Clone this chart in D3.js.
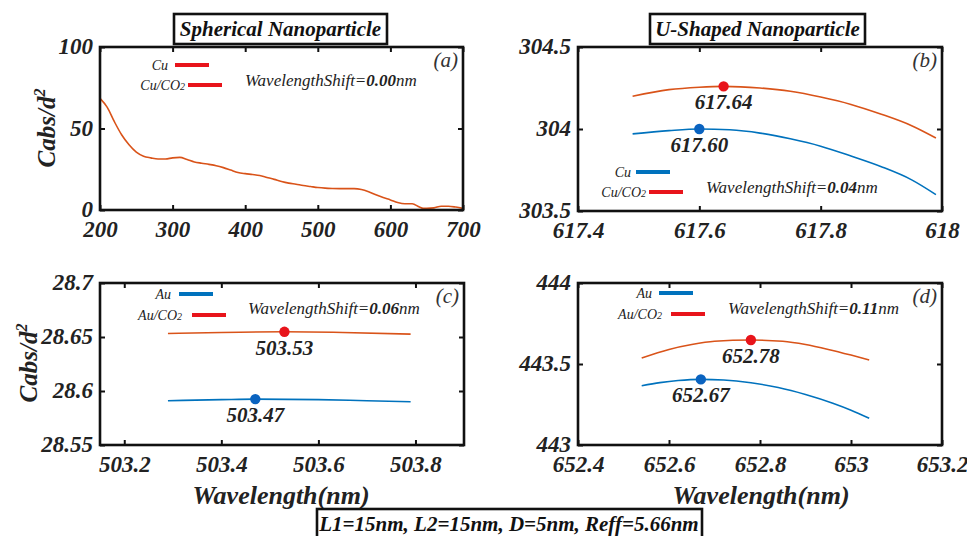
<!DOCTYPE html>
<html>
<head>
<meta charset="utf-8">
<script src="https://cdn.jsdelivr.net/npm/d3@7"></script>
<style>
  html, body { margin: 0; padding: 0; background: #fff; }
  svg { display: block; }
  svg text { font-family: "Liberation Serif", "Tinos", "Times New Roman", "DejaVu Serif", serif; }
</style>
</head>
<body>
<svg id="chart" width="967" height="536"></svg>
<script>
// ---- Panel (a): spherical Cu, absorption spectrum ----
const sphWl  = [200, 210, 220, 230, 240, 250, 260, 270, 280, 290, 300, 310, 320, 330, 340, 350, 360, 370, 380, 390,
                400, 410, 420, 430, 440, 450, 460, 470, 480, 490, 500, 510, 520, 530, 540, 550, 560, 570, 580, 590,
                600, 610, 620, 630, 640, 645, 650, 660, 670, 680, 690, 700];
const sphCabs = [68.5, 63, 54, 46, 40, 35.5, 33, 32, 31.3, 31.3, 32, 32.3, 31, 29.5, 28.7, 28, 27.2, 26, 24.5, 23,
                 22.3, 21.8, 21.2, 20, 18.8, 17.5, 16.5, 15.8, 15, 14.4, 13.8, 13.4, 13.2, 13.1, 13.1, 13.1, 12.6, 11.2, 9.3, 7.6,
                 6.2, 4.6, 3.8, 3.8, 1.8, 1.0, 1.0, 1.3, 2.3, 2.3, 1.8, 1.0];

// ---- Panel (b): U-shaped Cu, peak region ----
const uCuWl     = [617.49, 617.55, 617.60, 617.65, 617.70, 617.75, 617.80, 617.85, 617.90, 617.95, 617.99];
const uCuCabs   = [303.97, 303.99, 304.00, 303.995, 303.975, 303.94, 303.895, 303.835, 303.77, 303.69, 303.60];
const uCuCO2Wl  = [617.49, 617.55, 617.60, 617.64, 617.70, 617.75, 617.80, 617.85, 617.90, 617.95, 617.99];
const uCuCO2Cabs= [304.20, 304.24, 304.255, 304.26, 304.25, 304.23, 304.195, 304.15, 304.09, 304.02, 303.945];
const uCuPeak = [617.60, 304.00], uCuCO2Peak = [617.64, 304.26];

// ---- Panel (c): spherical Au, peak region ----
const sAuWl      = [503.29, 503.40, 503.47, 503.60, 503.70, 503.79];
const sAuCabs    = [28.591, 28.592, 28.5925, 28.592, 28.591, 28.590];
const sAuCO2Wl   = [503.29, 503.40, 503.53, 503.65, 503.79];
const sAuCO2Cabs = [28.6532, 28.6542, 28.6548, 28.6542, 28.6527];
const sAuPeak = [503.47, 28.5925], sAuCO2Peak = [503.53, 28.6548];

// ---- Panel (d): U-shaped Au, peak region ----
const uAuWl      = [652.54, 652.58, 652.62, 652.67, 652.72, 652.78, 652.84, 652.90, 652.96, 653.00, 653.04];
const uAuCabs    = [443.366, 443.385, 443.398, 443.405, 443.401, 443.384, 443.355, 443.312, 443.258, 443.215, 443.165];
const uAuCO2Wl   = [652.54, 652.60, 652.65, 652.70, 652.78, 652.85, 652.90, 652.95, 653.00, 653.04];
const uAuCO2Cabs = [443.537, 443.59, 443.62, 443.64, 443.648, 443.64, 443.62, 443.59, 443.555, 443.525];
const uAuPeak = [652.67, 443.405], uAuCO2Peak = [652.78, 443.648];

// ---- tick labels ----
const xTicksA = [200, 300, 400, 500, 600, 700], xLabelsA = ["200", "300", "400", "500", "600", "700"];
const yTicksA = [0, 50, 100], yLabelsA = ["0", "50", "100"];
const xTicksB = [617.4, 617.6, 617.8, 618], xLabelsB = ["617.4", "617.6", "617.8", "618"];
const yTicksB = [303.5, 304, 304.5], yLabelsB = ["303.5", "304", "304.5"];
const xTicksC = [503.2, 503.4, 503.6, 503.8], xLabelsC = ["503.2", "503.4", "503.6", "503.8"];
const yTicksC = [28.55, 28.6, 28.65, 28.7], yLabelsC = ["28.55", "28.6", "28.65", "28.7"];
const xTicksD = [652.4, 652.6, 652.8, 653, 653.2], xLabelsD = ["652.4", "652.6", "652.8", "653", "653.2"];
const yTicksD = [443, 443.5, 444], yLabelsD = ["443", "443.5", "444"];

const shiftLabels = ["0.00", "0.04", "0.06", "0.11"];

const C_ORANGE = "#d95319", C_BLUE = "#0072bd", C_RED = "#e8141b", C_BLUEDOT = "#0a63c0";
const FONT = '"Liberation Serif", "Tinos", "Times New Roman", "DejaVu Serif", serif';

const svg = d3.select("#chart");

function zip(a, b) { return a.map((v, i) => [v, b[i]]); }

function panel(cfg) {
  const g = svg.append("g").attr("transform", `translate(${cfg.left},${cfg.top})`);
  const x = d3.scaleLinear().domain(cfg.xDomain).range([0, cfg.w]);
  const y = d3.scaleLinear().domain(cfg.yDomain).range([cfg.h, 0]);

  const line = d3.line().x(d => x(d[0])).y(d => y(d[1])).curve(d3.curveMonotoneX);
  cfg.series.forEach(s => {
    g.append("path").datum(s.pts).attr("d", line)
      .attr("fill", "none").attr("stroke", s.color).attr("stroke-width", 1.6);
  });

  // peak markers with their wavelength labels
  (cfg.peaks || []).forEach(p => {
    g.append("circle").attr("cx", x(p.pt[0])).attr("cy", y(p.pt[1])).attr("r", 5.2).attr("fill", p.color);
    g.append("text").attr("x", x(p.pt[0])).attr("y", y(p.pt[1]) + 23)
      .attr("text-anchor", "middle").attr("font-size", 21).attr("font-weight", "bold").attr("font-style", "italic")
      .attr("fill", "#222").text(p.pt[0].toFixed(2));
  });

  // axes: ticks inward on all four sides
  const tl = 5;
  const bottom = d3.axisBottom(x).tickValues(cfg.xTicks).tickSize(-tl).tickFormat((d, i) => cfg.xLabels[i]).tickPadding(11);
  const top = d3.axisTop(x).tickValues(cfg.xTicks).tickSize(-tl).tickFormat("");
  const left = d3.axisLeft(y).tickValues(cfg.yTicks).tickSize(-tl).tickFormat((d, i) => cfg.yLabels[i]).tickPadding(7);
  const right = d3.axisRight(y).tickValues(cfg.yTicks).tickSize(-tl).tickFormat("");

  const ax = [
    g.append("g").attr("transform", `translate(0,${cfg.h})`).call(bottom),
    g.append("g").call(top),
    g.append("g").call(left),
    g.append("g").attr("transform", `translate(${cfg.w},0)`).call(right)
  ];
  ax.forEach(a => {
    a.attr("font-family", FONT);
    a.select(".domain").remove();
    a.selectAll(".tick line").attr("stroke", "#111").attr("stroke-width", 2);
    a.selectAll(".tick text").style("font-family", FONT).attr("font-size", 23)
      .attr("font-weight", "bold").attr("font-style", "italic").attr("fill", "#222");
  });
  ax[0].selectAll(".tick text").attr("dy", "0.68em");
  ax[2].selectAll(".tick text").attr("dy", "0.3em");

  g.append("rect").attr("width", cfg.w).attr("height", cfg.h)
    .attr("fill", "none").attr("stroke", "#111").attr("stroke-width", 2.6);

  // panel letter
  g.append("text").attr("x", cfg.w - 5).attr("y", 20).attr("text-anchor", "end")
    .attr("font-size", 21).attr("font-style", "italic").attr("fill", "#333").text(cfg.letter);

  // legend
  cfg.legend.forEach(L => {
    const t = g.append("text").attr("x", L.tx).attr("y", L.ty + 4.5).attr("text-anchor", "end")
      .attr("font-size", 14).attr("font-style", "italic").attr("fill", "#222");
    t.append("tspan").text(L.name);
    if (L.sub) t.append("tspan").attr("font-size", 10).text(L.sub);
    g.append("line").attr("x1", L.lx).attr("x2", L.lx + 34).attr("y1", L.ty).attr("y2", L.ty)
      .attr("stroke", L.color).attr("stroke-width", 4);
  });

  // wavelength shift note
  const s = g.append("text").attr("x", cfg.shift.x).attr("y", cfg.shift.y + 5.5)
    .attr("font-size", 17).attr("font-style", "italic").attr("fill", "#222");
  s.append("tspan").text("WavelengthShift=");
  s.append("tspan").attr("font-weight", "bold").text(cfg.shift.val);
  s.append("tspan").text("nm");

  return g;
}

// (a)
panel({
  left: 100, top: 47, w: 363, h: 163,
  xDomain: [200, 700], yDomain: [0, 100],
  xTicks: xTicksA, xLabels: xLabelsA, yTicks: yTicksA, yLabels: yLabelsA,
  series: [{ pts: zip(sphWl, sphCabs), color: C_ORANGE }],
  letter: "(a)",
  legend: [
    { name: "Cu", tx: 68, ty: 18, lx: 75, color: C_RED },
    { name: "Cu/CO", sub: "2", tx: 85, ty: 38, lx: 88, color: C_RED }
  ],
  shift: { x: 145, y: 33, val: shiftLabels[0] }
});

// (b)
panel({
  left: 578, top: 47, w: 364, h: 164,
  xDomain: [617.4, 618], yDomain: [303.5, 304.5],
  xTicks: xTicksB, xLabels: xLabelsB, yTicks: yTicksB, yLabels: yLabelsB,
  series: [{ pts: zip(uCuWl, uCuCabs), color: C_BLUE }, { pts: zip(uCuCO2Wl, uCuCO2Cabs), color: C_ORANGE }],
  peaks: [{ pt: uCuPeak, color: C_BLUEDOT }, { pt: uCuCO2Peak, color: C_RED }],
  letter: "(b)",
  legend: [
    { name: "Cu", tx: 53, ty: 125, lx: 58, color: C_BLUE },
    { name: "Cu/CO", sub: "2", tx: 68, ty: 145, lx: 71, color: C_RED }
  ],
  shift: { x: 128, y: 140, val: shiftLabels[1] }
});

// (c)
panel({
  left: 100, top: 283, w: 364, h: 162,
  xDomain: [503.15, 503.9], yDomain: [28.55, 28.7],
  xTicks: xTicksC, xLabels: xLabelsC, yTicks: yTicksC, yLabels: yLabelsC,
  series: [{ pts: zip(sAuWl, sAuCabs), color: C_BLUE }, { pts: zip(sAuCO2Wl, sAuCO2Cabs), color: C_ORANGE }],
  peaks: [{ pt: sAuPeak, color: C_BLUEDOT }, { pt: sAuCO2Peak, color: C_RED }],
  letter: "(c)",
  legend: [
    { name: "Au", tx: 71, ty: 11, lx: 79, color: C_BLUE },
    { name: "Au/CO", sub: "2", tx: 82, ty: 32, lx: 92, color: C_RED }
  ],
  shift: { x: 148, y: 25, val: shiftLabels[2] }
});

// (d)
panel({
  left: 578, top: 283, w: 364, h: 162,
  xDomain: [652.4, 653.2], yDomain: [443, 444],
  xTicks: xTicksD, xLabels: xLabelsD, yTicks: yTicksD, yLabels: yLabelsD,
  series: [{ pts: zip(uAuWl, uAuCabs), color: C_BLUE }, { pts: zip(uAuCO2Wl, uAuCO2Cabs), color: C_ORANGE }],
  peaks: [{ pt: uAuPeak, color: C_BLUEDOT }, { pt: uAuCO2Peak, color: C_RED }],
  letter: "(d)",
  legend: [
    { name: "Au", tx: 74, ty: 10, lx: 81, color: C_BLUE },
    { name: "Au/CO", sub: "2", tx: 84, ty: 31, lx: 93, color: C_RED }
  ],
  shift: { x: 150, y: 25, val: shiftLabels[3] }
});

// y-axis titles
function yTitle(cx, cy) {
  const t = svg.append("text").attr("transform", `translate(${cx},${cy}) rotate(-90)`)
    .attr("text-anchor", "middle").attr("font-size", 25).attr("font-weight", "bold").attr("font-style", "italic")
    .attr("fill", "#222");
  t.append("tspan").text("Cabs/d");
  t.append("tspan").attr("font-size", 16).attr("dy", -10).text("2");
}
yTitle(55, 128);
yTitle(37, 363);

// x-axis titles
[[281, 504], [761, 504]].forEach(([cx, cy]) => {
  svg.append("text").attr("x", cx).attr("y", cy).attr("text-anchor", "middle")
    .attr("font-size", 26).attr("font-weight", "bold").attr("font-style", "italic").attr("fill", "#222")
    .text("Wavelength(nm)");
});

// boxed headings
function boxed(x0, y0, w, h, label, size) {
  svg.append("rect").attr("x", x0).attr("y", y0).attr("width", w).attr("height", h)
    .attr("fill", "#fff").attr("stroke", "#111").attr("stroke-width", 2.6);
  svg.append("text").attr("x", x0 + w / 2).attr("y", y0 + h / 2 + size * 0.33).attr("text-anchor", "middle")
    .attr("font-size", size).attr("font-weight", "bold").attr("font-style", "italic").attr("fill", "#111")
    .text(label);
}
boxed(174, 14, 213, 30, "Spherical Nanoparticle", 21);
boxed(650, 14, 215, 30, "U-Shaped Nanoparticle", 21);
boxed(317, 509, 385, 40, "", 19);
svg.append("text").attr("x", 509).attr("y", 531).attr("text-anchor", "middle")
  .attr("font-size", 21).attr("font-weight", "bold").attr("font-style", "italic").attr("fill", "#111")
  .text("L1=15nm, L2=15nm, D=5nm, Reff=5.66nm");
</script>
</body>
</html>
